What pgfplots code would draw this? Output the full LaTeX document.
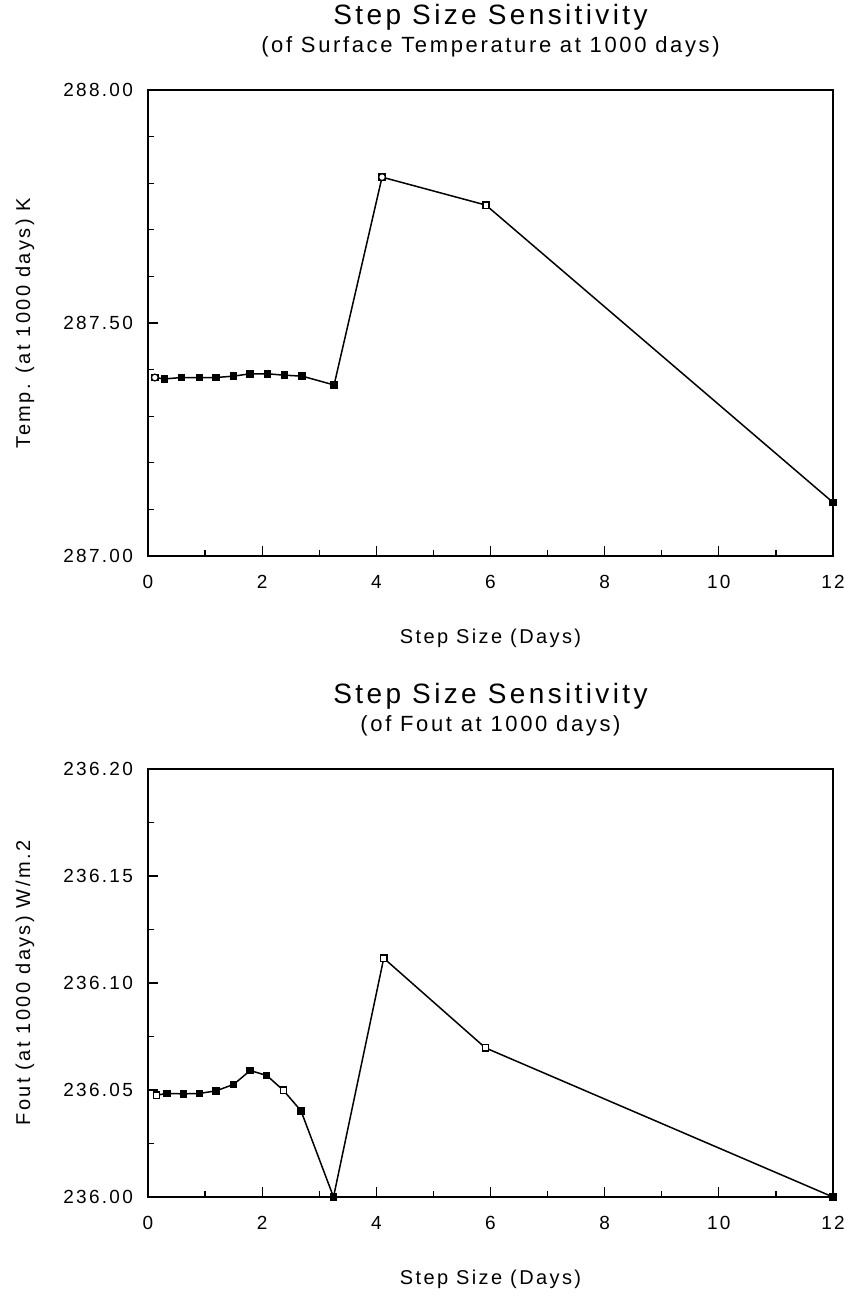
\documentclass[border=0pt]{standalone}
\usepackage{pgfplots}
\pgfplotsset{compat=1.18}
\usepackage{fontspec}
\setmainfont{Liberation Sans}[LetterSpace=12]
\begin{document}
\begin{tikzpicture}
\path[use as bounding box] (-74pt,-370pt) rectangle (348pt,278pt);
\pgfplotsset{
  every axis/.append style={
    scale only axis, width=342.5pt,
    xmin=0, xmax=12,
    xtick={0,2,4,6,8,10,12},
    minor xtick={1,3,5,7,9,11},
    tick align=inside, xtick pos=bottom, ytick pos=left,
    major tick length=5pt, minor tick length=3pt,
    axis line style={line width=0.8pt},
    every tick/.style={black, line width=0.6pt},
    tick label style={font=\fontsize{9.5}{11}\selectfont},
    /pgf/number format/assume math mode=true,
    xticklabel style={yshift=-6pt},
    yticklabel style={/pgf/number format/fixed, /pgf/number format/fixed zerofill, /pgf/number format/precision=2, xshift=-4pt},
    x label style={at={(axis description cs:0.5,0)}, anchor=center, yshift=-41pt, font=\fontsize{10}{12}\selectfont},
    y label style={at={(axis description cs:0,0.5)}, anchor=center, yshift=61.5pt, font=\fontsize{10}{12}\selectfont},
    title style={at={(axis description cs:0.5,1)}, anchor=south, yshift=7pt, align=center},
    scaled y ticks=false,
  },
}
% ---------- top axis ----------
\begin{axis}[
  at={(0pt,0pt)}, anchor=origin,
  height=233pt,
  ymin=287, ymax=288,
  ytick={287,287.5,288},
  minor ytick={287.1,287.2,287.3,287.4,287.6,287.7,287.8,287.9},
  xlabel={Step Size (Days)},
  ylabel={Temp. (at 1000 days) K},
  title={{\fontsize{14}{16}\selectfont Step Size Sensitivity}\\[2pt]{\fontsize{11}{13}\selectfont (of Surface Temperature at 1000 days)}},
]
\addplot[black, line width=0.75pt, mark=square*, mark size=1.5pt] coordinates {
(0.12,287.383) (0.29,287.380) (0.59,287.383) (0.90,287.383) (1.19,287.383)
(1.50,287.386) (1.79,287.391) (2.09,287.391) (2.39,287.388) (2.70,287.386)
(3.26,287.367) (4.10,287.813) (5.92,287.753) (12.0,287.115)
};
\addplot[black, only marks, mark=*, mark size=1.7pt, mark options={fill=white, draw=black, line width=0.6pt}] coordinates {
(0.12,287.383) (4.10,287.813)
};
\addplot[black, only marks, mark=square*, mark size=1.5pt, mark options={fill=white, draw=black, line width=0.6pt}] coordinates {
(5.92,287.753)
};
\end{axis}
% ---------- bottom axis ----------
\begin{axis}[
  at={(0pt,-320.5pt)}, anchor=origin,
  height=214pt,
  ymin=236, ymax=236.2,
  ytick={236,236.05,236.1,236.15,236.2},
  minor ytick={236.025,236.075,236.125,236.175},
  xlabel={Step Size (Days)},
  ylabel={Fout (at 1000 days) W/m.2},
  title={{\fontsize{14}{16}\selectfont Step Size Sensitivity}\\[2pt]{\fontsize{11}{13}\selectfont (of Fout at 1000 days)}},
]
\addplot[black, line width=0.75pt, mark=square*, mark size=1.5pt] coordinates {
(0.15,236.0476) (0.33,236.0484) (0.62,236.0482) (0.90,236.0484) (1.19,236.0496)
(1.50,236.0526) (1.79,236.0591) (2.08,236.0568) (2.37,236.0499) (2.68,236.0403)
(3.25,236.0000) (4.13,236.1116) (5.91,236.0697) (12.0,236.0000)
};
\addplot[black, only marks, mark=square*, mark size=1.5pt, mark options={fill=white, draw=black, line width=0.6pt}] coordinates {
(0.15,236.0476) (2.37,236.0499) (4.13,236.1116) (5.91,236.0697)
};
\end{axis}
\end{tikzpicture}
\end{document}
